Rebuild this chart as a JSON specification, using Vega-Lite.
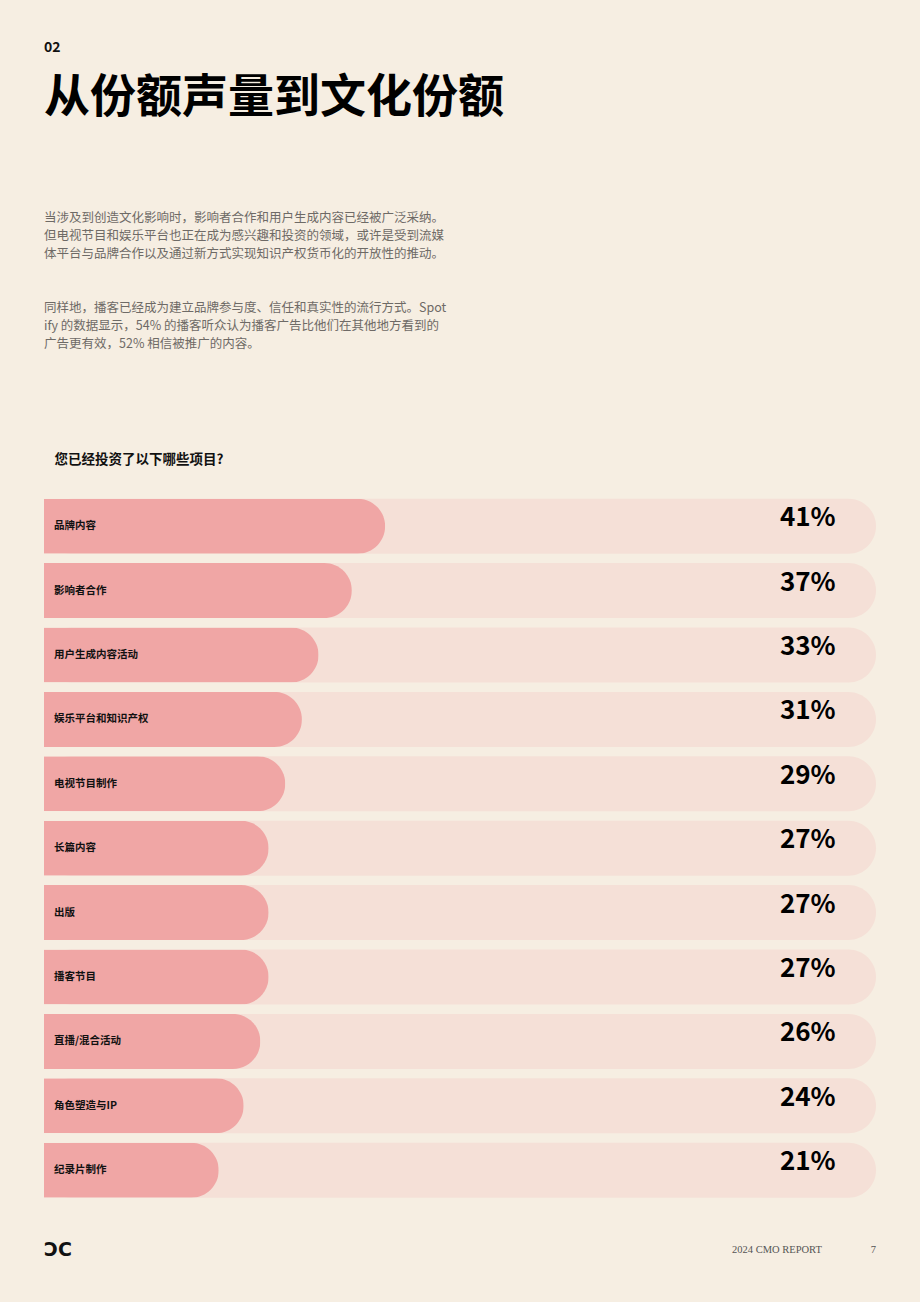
{
  "$schema": "https://vega.github.io/schema/vega-lite/v6.json",
  "background": "#F6EEE2",
  "padding": {"left": 44, "top": 40, "right": 44, "bottom": 43},
  "config": {
    "view": {"stroke": null},
    "font": "Noto Sans CJK SC"
  },
  "title": {
    "text": "02",
    "subtitle": "从份额声量到文化份额",
    "anchor": "start",
    "frame": "group",
    "baseline": "top",
    "font": "Noto Sans CJK SC",
    "fontSize": 14,
    "fontWeight": "bold",
    "color": "#111111",
    "subtitleFont": "Noto Sans CJK SC",
    "subtitleFontSize": 46,
    "subtitleFontWeight": "bold",
    "subtitleColor": "#000000",
    "subtitlePadding": 21,
    "offset": 91
  },
  "vconcat": [
    {
      "width": 832,
      "height": 708.4,
      "title": {
        "text": [
          "当涉及到创造文化影响时，影响者合作和用户生成内容已经被广泛采纳。",
          "但电视节目和娱乐平台也正在成为感兴趣和投资的领域，或许是受到流媒",
          "体平台与品牌合作以及通过新方式实现知识产权货币化的开放性的推动。",
          "\u200b",
          "\u200b",
          "同样地，播客已经成为建立品牌参与度、信任和真实性的流行方式。Spot",
          "ify 的数据显示，54% 的播客听众认为播客广告比他们在其他地方看到的",
          "广告更有效，52% 相信被推广的内容。"
        ],
        "anchor": "start",
        "frame": "group",
        "font": "Noto Sans CJK SC",
        "fontSize": 12.5,
        "fontWeight": "normal",
        "color": "#6E6A66",
        "lineHeight": 18,
        "offset": 102
      },
      "data": {
        "values": [
          {"item": "品牌内容", "pct": 0.41},
          {"item": "影响者合作", "pct": 0.37},
          {"item": "用户生成内容活动", "pct": 0.33},
          {"item": "娱乐平台和知识产权", "pct": 0.31},
          {"item": "电视节目制作", "pct": 0.29},
          {"item": "长篇内容", "pct": 0.27},
          {"item": "出版", "pct": 0.27},
          {"item": "播客节目", "pct": 0.27},
          {"item": "直播/混合活动", "pct": 0.26},
          {"item": "角色塑造与IP", "pct": 0.24},
          {"item": "纪录片制作", "pct": 0.21}
        ]
      },
      "encoding": {
        "y": {
          "field": "item",
          "type": "nominal",
          "sort": null,
          "axis": null,
          "scale": {"paddingInner": 0.146, "paddingOuter": 0.073}
        }
      },
      "layer": [
        {
          "mark": {"type": "bar", "color": "#F5E0D7", "cornerRadiusEnd": 27.5},
          "encoding": {
            "x": {
              "datum": 0,
              "type": "quantitative",
              "scale": {"domain": [0, 1], "nice": false, "zero": true},
              "axis": {
                "orient": "top",
                "labels": false,
                "ticks": false,
                "domain": false,
                "grid": false,
                "title": "您已经投资了以下哪些项目?",
                "titleAnchor": "start",
                "titleAlign": "left",
                "titleBaseline": "middle",
                "titleX": 10,
                "titleY": -35,
                "titleFont": "Noto Sans CJK SC",
                "titleFontSize": 13.5,
                "titleFontWeight": "bold",
                "titleColor": "#111111"
              }
            },
            "x2": {"datum": 1}
          }
        },
        {
          "mark": {"type": "bar", "color": "#F0A6A5", "cornerRadiusEnd": 27.5},
          "encoding": {
            "x": {"field": "pct", "type": "quantitative"}
          }
        },
        {
          "mark": {
            "type": "text",
            "align": "left",
            "baseline": "middle",
            "dx": 10,
            "fontSize": 10.5,
            "fontWeight": "bold",
            "font": "Noto Sans CJK SC",
            "color": "#111111"
          },
          "encoding": {
            "x": {"datum": 0, "type": "quantitative"},
            "text": {"field": "item"}
          }
        },
        {
          "mark": {
            "type": "text",
            "align": "center",
            "baseline": "middle",
            "dy": -8,
            "fontSize": 26,
            "fontWeight": "bold",
            "font": "Noto Sans CJK SC",
            "color": "#000000"
          },
          "encoding": {
            "x": {"datum": 0.918, "type": "quantitative"},
            "text": {"field": "pct", "format": ".0%"}
          }
        }
      ]
    },
    {
      "width": 832,
      "height": 20,
      "data": {"values": [{"logo": "ƆC", "report": "2024 CMO REPORT", "page": "7"}]},
      "layer": [
        {
          "mark": {
            "type": "text",
            "align": "left",
            "baseline": "middle",
            "font": "DejaVu Sans",
            "fontWeight": "bold",
            "fontSize": 19,
            "letterSpacing": -1.5,
            "color": "#111111"
          },
          "encoding": {
            "x": {"datum": 0, "type": "quantitative", "scale": {"domain": [0, 1], "nice": false}, "axis": null},
            "text": {"field": "logo"}
          }
        },
        {
          "mark": {
            "type": "text",
            "align": "left",
            "baseline": "middle",
            "font": "Liberation Serif",
            "fontSize": 10.5,
            "color": "#555555"
          },
          "encoding": {
            "x": {"datum": 0.827, "type": "quantitative"},
            "text": {"field": "report"}
          }
        },
        {
          "mark": {
            "type": "text",
            "align": "right",
            "baseline": "middle",
            "font": "Liberation Serif",
            "fontSize": 10.5,
            "color": "#555555"
          },
          "encoding": {
            "x": {"datum": 1, "type": "quantitative"},
            "text": {"field": "page"}
          }
        }
      ]
    }
  ],
  "spacing": 37
}
